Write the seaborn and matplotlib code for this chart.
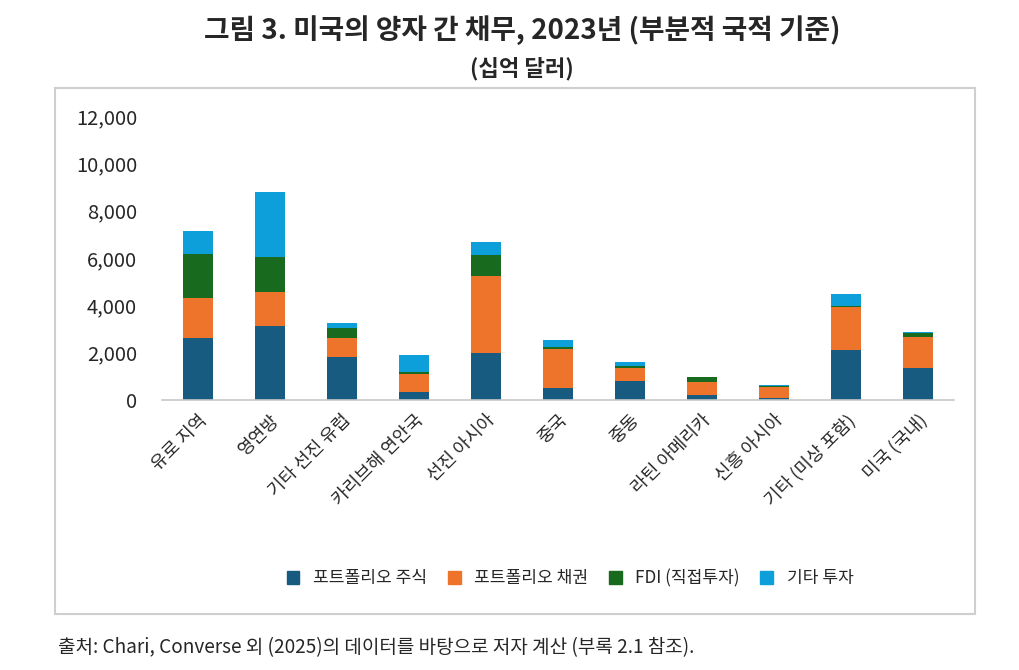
import numpy as np
import pandas as pd
import matplotlib
matplotlib.use("Agg")
import matplotlib.pyplot as plt
import seaborn as sns
from matplotlib.patches import Rectangle

# data (billions of USD)
regions = ["유로 지역", "영연방", "기타 선진 유럽", "카리브해 연안국", "선진 아시아", "중국",
           "중동", "라틴 아메리카", "신흥 아시아", "기타 (미상 포함)", "미국 (국내)"]
equity = [2630, 3130, 1830, 320, 1990, 490, 800, 210, 80, 2100, 1350]
bonds = [1670, 1420, 780, 790, 3250, 1680, 570, 550, 460, 1830, 1330]
fdi = [1870, 1490, 450, 70, 900, 80, 70, 200, 30, 40, 150]
other = [970, 2760, 190, 720, 550, 290, 170, 30, 60, 520, 30]

series_names = ["포트폴리오 주식", "포트폴리오 채권", "FDI (직접투자)", "기타 투자"]
colors = ["#175b80", "#ee742b", "#186a1f", "#0d9fd9"]

sns.set_style("white")
plt.rcParams["font.family"] = ["Noto Sans CJK KR", "DejaVu Sans"]

df = pd.DataFrame({"region": regions, "s0": equity, "s1": bonds, "s2": fdi, "s3": other})
cum = df[["s0", "s1", "s2", "s3"]].cumsum(axis=1)

fig = plt.figure(figsize=(10.2, 6.7), dpi=100)
fig.patches.append(Rectangle((0.054, 0.084), 0.902, 0.785, transform=fig.transFigure,
                             fill=False, edgecolor="#cfcfcf", linewidth=1.5))
ax = fig.add_axes([0.159, 0.403, 0.776, 0.424])

# draw cumulative totals from top down so lower segments overlay
for col, c in zip(["s3", "s2", "s1", "s0"], colors[::-1]):
    sns.barplot(x=df["region"], y=cum[col], color=c, width=0.42, saturation=1,
                ax=ax, linewidth=0)

ax.set_ylim(0, 12000)
ax.set_xlim(-0.5, 10.5)
ax.set_yticks(range(0, 12001, 2000))
ax.set_yticklabels([f"{v:,}" for v in range(0, 12001, 2000)], fontsize=14.5)
ax.set_xlabel("")
ax.set_ylabel("")
ax.set_xticks(range(len(regions)))
ax.set_xticklabels(regions, rotation=45, ha="right", rotation_mode="anchor", fontsize=13)
ax.tick_params(axis="y", length=0, pad=18)
ax.tick_params(axis="x", length=0, pad=8)
for s in ["top", "right", "left"]:
    ax.spines[s].set_visible(False)
ax.spines["bottom"].set_color("#c8c8c8")
ax.spines["bottom"].set_linewidth(1.2)

handles = [Rectangle((0, 0), 1, 1, color=c) for c in colors]
fig.legend(handles, series_names, loc="center", bbox_to_anchor=(0.559, 0.137), ncol=4,
           frameon=False, fontsize=12.3, handlelength=0.75, handleheight=0.75,
           columnspacing=1.2, handletextpad=0.8)

fig.text(0.512, 0.955, "그림 3. 미국의 양자 간 채무, 2023년 (부분적 국적 기준)",
         ha="center", va="center", fontsize=20, fontweight="bold")
fig.text(0.512, 0.897, "(십억 달러)", ha="center", va="center", fontsize=16, fontweight="bold")
fig.text(0.057, 0.033, "출처: Chari, Converse 외 (2025)의 데이터를 바탕으로 저자 계산 (부록 2.1 참조).",
         ha="left", va="center", fontsize=13.7)

fig.savefig("out.png", dpi=100)
